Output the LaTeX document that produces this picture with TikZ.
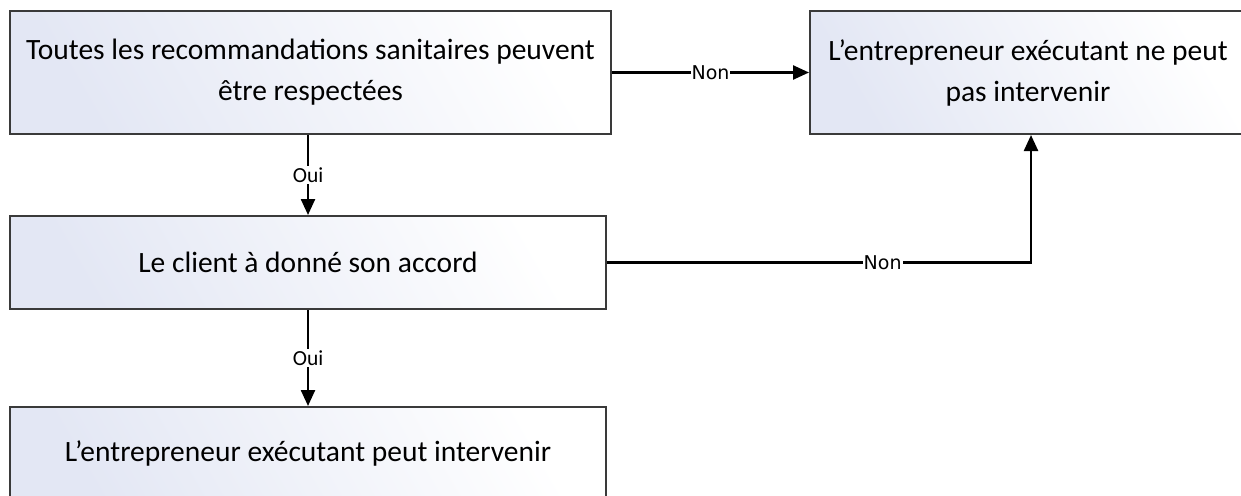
\documentclass[tikz,border=0pt]{standalone}
\usepackage{fontspec}
\setmainfont{Carlito}
\newfontfamily\labfont{DejaVu Sans}
\usetikzlibrary{arrows.meta,calc}
\definecolor{boxA}{HTML}{E3E7F4}
\definecolor{edge}{HTML}{3A3A3A}
\tikzset{
  box/.style={draw=edge, line width=2pt, rectangle, inner sep=0pt,
    left color=boxA, right color=white, shading angle=120,
    align=center, font=\fontsize{29.5}{41}\selectfont},
  arr/.style={line width=2.4pt, -{Triangle[length=16pt,width=14pt]}},
  lab/.style={fill=white, inner sep=1.5pt, font=\fontsize{21.5}{23}\selectfont},
  nlab/.style={fill=white, inner sep=1pt, font=\labfont\fontsize{19}{21}\selectfont}
}
\begin{document}
\begin{tikzpicture}[x=1pt,y=-1pt]
\path[use as bounding box, clip] (0,0) rectangle (1241,495);
\node[box, minimum width=601pt, minimum height=123pt] (q1) at (310.5,72.5)
  {Toutes les recommandations sanitaires peuvent\\être respectées};
\node[box, minimum width=436pt, minimum height=123pt] (no) at (1028,72.5)
  {L’entrepreneur exécutant ne peut\\pas intervenir};
\node[box, minimum width=596pt, minimum height=93pt] (q2) at (308,262.5)
  {Le client à donné son accord};
\node[box, minimum width=596pt, minimum height=93pt] (yes) at (308,453.5)
  {L’entrepreneur exécutant peut intervenir};
\draw[arr] (q1.east) -- node[nlab] {Non} (no.west);
\draw[arr] (q1.south -| q2.north) -- node[lab] {Oui} (q2.north);
\draw[arr] (q2.south) -- node[lab] {Oui} (yes.north);
\draw[arr] (q2.east) -| node[nlab, pos=0.325] {Non} ([xshift=3pt]no.south);
\end{tikzpicture}
\end{document}
